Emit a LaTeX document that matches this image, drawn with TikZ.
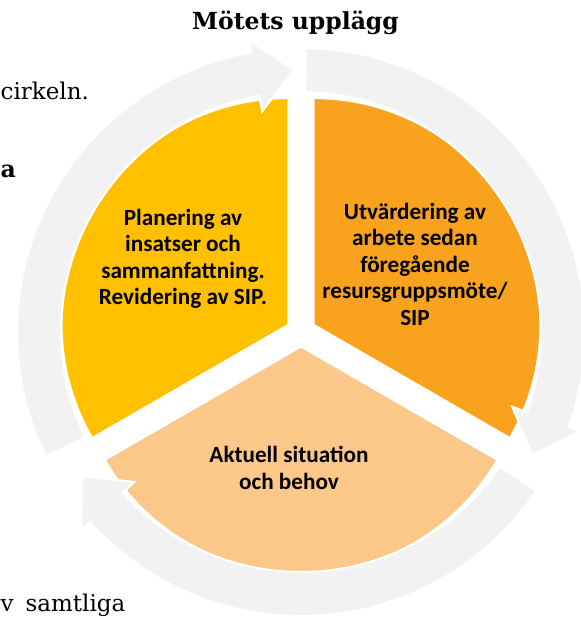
\documentclass[tikz,border=0pt]{standalone}
\usepackage{fontspec}
\newfontfamily\calib{Carlito}
\newfontfamily\dvserif{DejaVu Serif}
\definecolor{ringgray}{HTML}{F2F2F2}
\definecolor{segyellow}{HTML}{FFC000}
\definecolor{segorange}{HTML}{F9A21E}
\definecolor{seglight}{HTML}{FCC88A}
\begin{document}
\begin{tikzpicture}[x=1pt,y=1pt,
  seg/.style={draw=white, line width=1.2pt, line join=round},
  ringarrow/.style={fill=ringgray, draw=white, line width=2pt, line join=miter},
  seglabel/.style={font=\calib\bfseries\fontsize{23.2}{26.5}\selectfont, align=center, text=black, inner sep=0pt},
  bodytext/.style={font=\dvserif\fontsize{23}{28}\selectfont, inner sep=0pt},
  titletext/.style={font=\dvserif\bfseries\fontsize{23.5}{28}\selectfont, inner sep=0pt},
]
\useasboundingbox (0,0) rectangle (581,619);
\fill[white] (0,0) rectangle (581,619);
\coordinate (C) at (301,287);

\begin{scope}[shift={(C)}]
  % pie segments (exploded)
  \path[fill=segyellow, seg] (150:15pt) -- ++(90:226pt) arc[start angle=90, end angle=210, radius=226pt] -- cycle;
  \path[fill=segorange, seg] (30:15pt) -- ++(-30:226pt) arc[start angle=-30, end angle=90, radius=226pt] -- cycle;
  \path[fill=seglight, seg] (270:15pt) -- ++(210:226pt) arc[start angle=210, end angle=330, radius=226pt] -- cycle;

  % circular arrows
  \path[ringarrow] (206:284pt) arc[start angle=206, end angle=100, radius=284pt]
     -- (100:296pt) -- (91.5:262pt) -- (100:224pt) -- (100:240pt)
     arc[start angle=100, end angle=206, radius=240pt] -- cycle;
  \path[ringarrow] (89:284pt) arc[start angle=89, end angle=-19.5, radius=284pt]
     -- (-19.5:296pt) -- (-28:262pt) -- (-19.5:224pt) -- (-19.5:240pt)
     arc[start angle=-19.5, end angle=89, radius=240pt] -- cycle;
  \path[ringarrow] (326:284pt) arc[start angle=326, end angle=222, radius=284pt]
     -- (222:296pt) -- (213.5:262pt) -- (222:224pt) -- (222:240pt)
     arc[start angle=222, end angle=326, radius=240pt] -- cycle;
\end{scope}

% segment labels
\node[seglabel] (plan) at (183,360) {Planering av\\insatser och\\sammanfattning.\\Revidering av SIP.};
\node[seglabel] (utv) at (415,355) {Utvärdering av\\arbete sedan\\föregående\\resursgruppsmöte/\\SIP};
\node[seglabel] (akt) at (289,151) {Aktuell situation\\och behov};

% title and surrounding text
\node[titletext, anchor=base] (title) at (295.5,589) {Mötets upplägg};
\node[bodytext, anchor=base west] (cirk) at (0.5,519) {cirkeln.};
\node[titletext, anchor=base east] (bolda) at (16,441) {a};
\node[bodytext, anchor=base west] (samt) at (0.5,8) {v\hspace{12pt}samtliga};
\end{tikzpicture}
\end{document}
